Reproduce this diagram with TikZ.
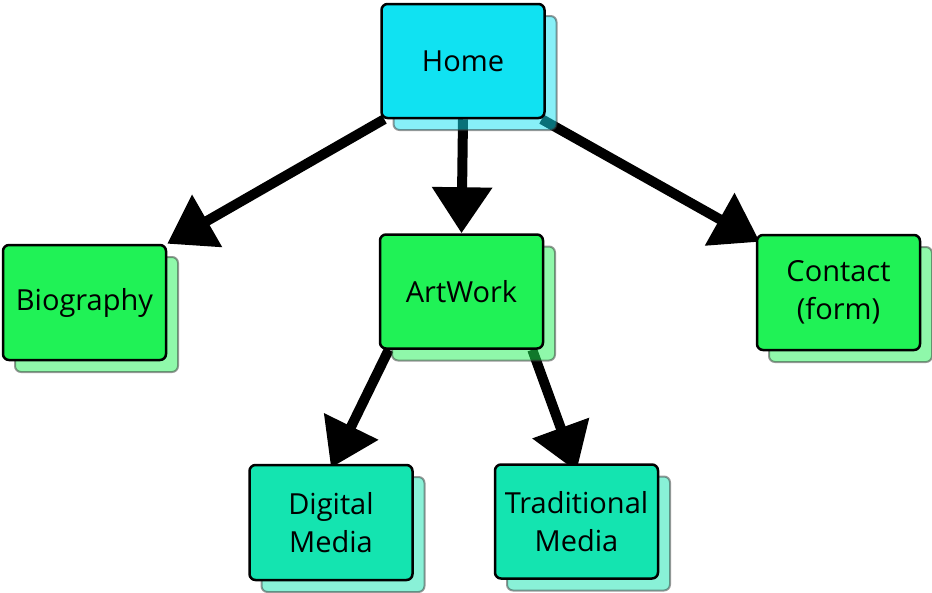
\documentclass[tikz,border=0pt]{standalone}
\usepackage{fontspec}
\setmainfont{Open Sans}
\usetikzlibrary{arrows.meta,shadows,backgrounds}
\definecolor{homecyan}{RGB}{16,226,242}
\definecolor{pagegreen}{RGB}{32,242,86}
\definecolor{mediateal}{RGB}{20,228,176}

\begin{document}
\begin{tikzpicture}[line cap=round,line join=round,x=1pt,y=-1pt,
        page/.style={draw=black,line width=2.5pt,rounded corners=6pt,minimum width=163pt,minimum height=114pt,
            align=center,font=\fontsize{29}{38}\selectfont,
            copy shadow={shadow xshift=12pt,shadow yshift=-12pt,opacity=.5,draw=black!80,line width=2pt}},
        link/.style={line width=10pt,line cap=butt,-{Triangle[length=46pt,width=58pt]}}]
        \useasboundingbox (0,0) rectangle (932,592);
        \node [page,fill=homecyan] (home) at (463,61) {Home};
        \node [page,fill=pagegreen,minimum height=115pt] (bio) at (84.5,302.5) {Biography};
        \node [page,fill=pagegreen] (art) at (461.5,291.5) {ArtWork};
        \node [page,fill=pagegreen,minimum height=115pt] (contact) at (838.5,292.5) {Contact\\(form)};
        \node [page,fill=mediateal,minimum height=115pt] (digital) at (331,522.5) {Digital\\Media};
        \node [page,fill=mediateal] (trad) at (576.5,521.5) {Traditional\\Media};
        \begin{scope}[on background layer]
            \draw [link] ([xshift=4pt]home.south west) -- (bio.north east);
            \draw [link] (home.south) -- (art.north);
            \draw [link] ([xshift=-4pt]home.south east) -- ([xshift=4pt,yshift=-8pt]contact.north west);
            \draw [link] ([xshift=10pt]art.south west) -- ([yshift=-4pt]digital.north);
            \draw [link] ([xshift=-12pt]art.south east) -- ([yshift=-8pt]trad.north);
        \end{scope}
    \end{tikzpicture}
\end{document}
